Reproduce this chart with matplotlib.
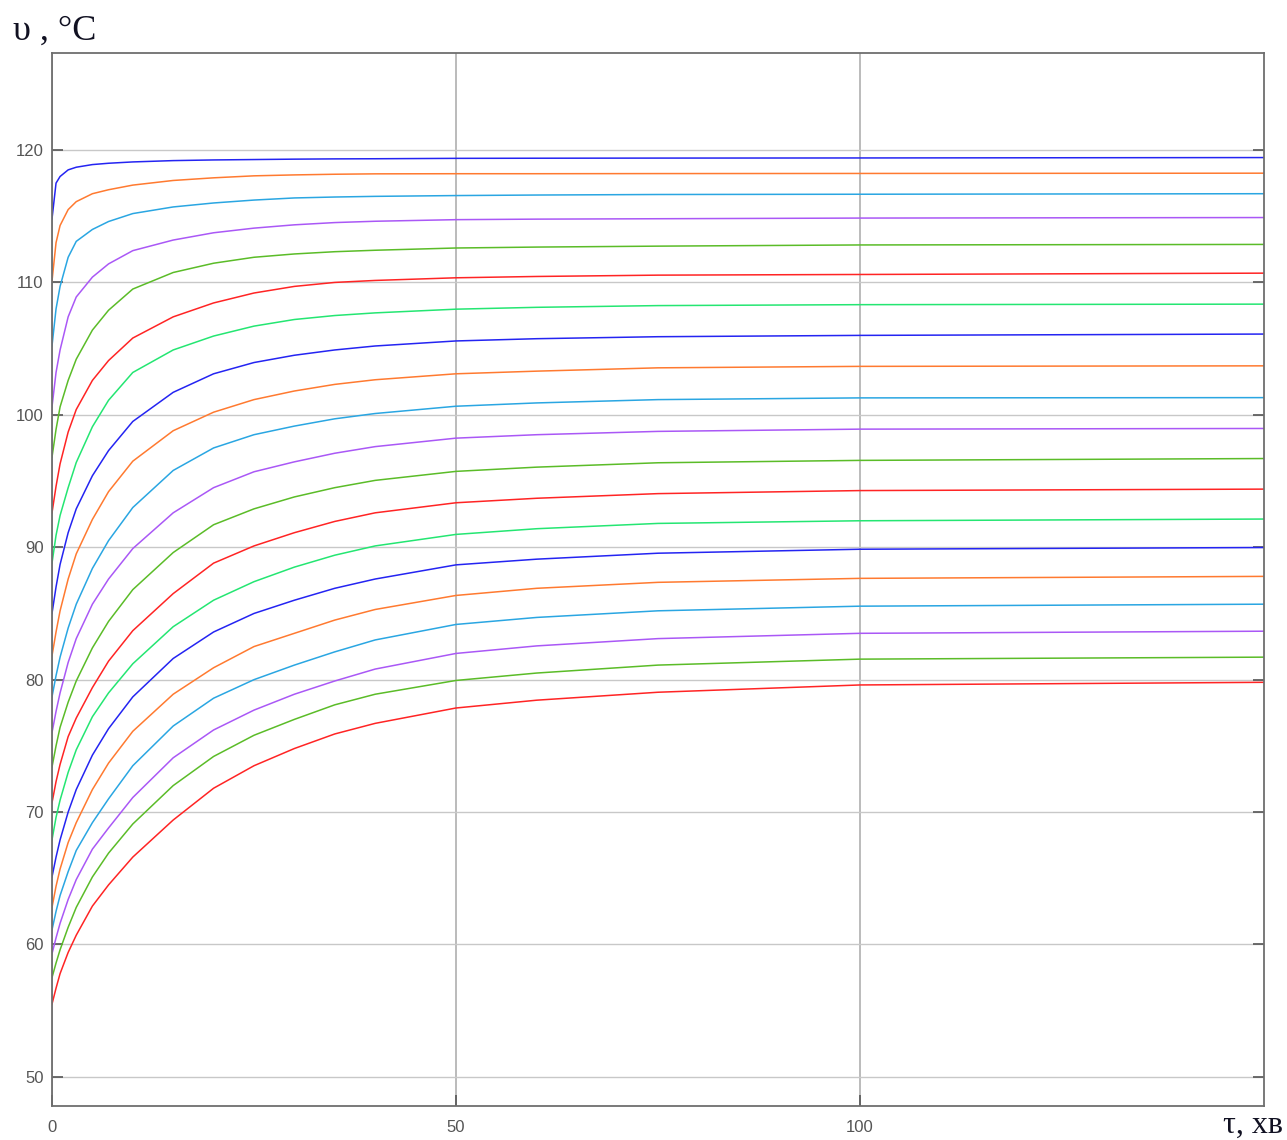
import matplotlib
matplotlib.use("Agg")
import matplotlib.pyplot as plt

# time, min
tau = [0, 0.5, 1, 2, 3, 5, 7, 10, 15, 20, 25, 30, 35, 40, 50, 60, 75, 100, 150]

# temperature curves, top to bottom
curve_01 = [114.8, 117.5, 118.0, 118.5, 118.7, 118.9, 119.0, 119.1, 119.2, 119.25, 119.28, 119.31, 119.33, 119.34, 119.37, 119.38, 119.39, 119.4, 119.43]
curve_02 = [110.1, 113.0, 114.3, 115.5, 116.1, 116.7, 117.0, 117.35, 117.7, 117.9, 118.05, 118.12, 118.17, 118.2, 118.21, 118.21, 118.22, 118.23, 118.25]
curve_03 = [105.2, 108.0, 109.7, 111.9, 113.1, 114.0, 114.6, 115.2, 115.7, 116.0, 116.22, 116.38, 116.45, 116.5, 116.56, 116.6, 116.64, 116.66, 116.7]
curve_04 = [100.6, 103.2, 104.9, 107.4, 108.9, 110.4, 111.4, 112.4, 113.2, 113.75, 114.1, 114.35, 114.52, 114.62, 114.74, 114.78, 114.81, 114.86, 114.9]
curve_05 = [96.8, 98.9, 100.6, 102.6, 104.2, 106.4, 107.9, 109.5, 110.75, 111.45, 111.9, 112.15, 112.32, 112.43, 112.6, 112.67, 112.74, 112.83, 112.87]
curve_06 = [92.6, 94.6, 96.3, 98.7, 100.4, 102.6, 104.1, 105.8, 107.4, 108.45, 109.2, 109.7, 110.0, 110.15, 110.35, 110.45, 110.55, 110.6, 110.7]
curve_07 = [88.8, 90.9, 92.4, 94.5, 96.4, 99.1, 101.1, 103.2, 104.9, 105.95, 106.7, 107.2, 107.5, 107.7, 107.98, 108.12, 108.25, 108.32, 108.36]
curve_08 = [85.0, 87.0, 88.7, 91.1, 92.9, 95.4, 97.3, 99.5, 101.7, 103.1, 103.95, 104.5, 104.9, 105.2, 105.58, 105.75, 105.9, 106.0, 106.1]
curve_09 = [81.8, 83.6, 85.2, 87.6, 89.5, 92.1, 94.2, 96.5, 98.8, 100.2, 101.15, 101.8, 102.3, 102.65, 103.1, 103.3, 103.55, 103.66, 103.7]
curve_10 = [78.7, 80.3, 81.7, 83.9, 85.7, 88.4, 90.5, 93.0, 95.8, 97.5, 98.5, 99.15, 99.7, 100.1, 100.65, 100.9, 101.15, 101.28, 101.3]
curve_11 = [76.0, 77.6, 79.0, 81.3, 83.1, 85.7, 87.6, 89.9, 92.6, 94.5, 95.7, 96.45, 97.1, 97.6, 98.24, 98.5, 98.75, 98.92, 98.97]
curve_12 = [73.4, 75.0, 76.4, 78.3, 79.9, 82.4, 84.4, 86.8, 89.6, 91.7, 92.9, 93.8, 94.5, 95.05, 95.73, 96.05, 96.38, 96.56, 96.7]
curve_13 = [70.7, 72.3, 73.6, 75.7, 77.1, 79.4, 81.4, 83.7, 86.5, 88.8, 90.1, 91.1, 91.95, 92.6, 93.36, 93.7, 94.05, 94.28, 94.39]
curve_14 = [67.9, 69.6, 70.9, 73.0, 74.7, 77.2, 79.0, 81.2, 84.0, 86.0, 87.4, 88.5, 89.4, 90.1, 90.97, 91.4, 91.8, 92.0, 92.13]
curve_15 = [65.1, 66.6, 67.9, 70.0, 71.7, 74.3, 76.3, 78.7, 81.6, 83.6, 85.0, 86.0, 86.9, 87.6, 88.67, 89.1, 89.55, 89.85, 89.98]
curve_16 = [62.8, 64.4, 65.7, 67.7, 69.2, 71.7, 73.7, 76.1, 78.9, 80.9, 82.5, 83.5, 84.5, 85.3, 86.36, 86.9, 87.35, 87.65, 87.8]
curve_17 = [61.1, 62.5, 63.7, 65.5, 67.1, 69.2, 71.0, 73.5, 76.5, 78.6, 80.0, 81.1, 82.1, 83.0, 84.17, 84.7, 85.2, 85.55, 85.7]
curve_18 = [59.3, 60.5, 61.6, 63.4, 64.9, 67.2, 68.8, 71.1, 74.1, 76.2, 77.7, 78.9, 79.9, 80.8, 81.98, 82.55, 83.1, 83.5, 83.66]
curve_19 = [57.5, 58.6, 59.6, 61.3, 62.8, 65.1, 66.9, 69.1, 72.0, 74.2, 75.8, 77.0, 78.1, 78.9, 79.94, 80.5, 81.1, 81.55, 81.7]
curve_20 = [55.5, 56.7, 57.8, 59.4, 60.7, 62.9, 64.5, 66.6, 69.4, 71.8, 73.5, 74.8, 75.9, 76.7, 77.86, 78.45, 79.05, 79.6, 79.8]

curves = [curve_01, curve_02, curve_03, curve_04, curve_05, curve_06, curve_07,
          curve_08, curve_09, curve_10, curve_11, curve_12, curve_13, curve_14,
          curve_15, curve_16, curve_17, curve_18, curve_19, curve_20]

colors = ["#2424F2", "#FF7A30", "#2AA6E2", "#AA58F6", "#5BBC28", "#FF2424", "#24E672"]

x_ticks = [0, 50, 100]
y_ticks = [50, 60, 70, 80, 90, 100, 110, 120]

fig = plt.figure(figsize=(12.87, 11.40), dpi=100)
ax = fig.add_axes([0.0404, 0.0298, 0.9417, 0.9234])

for i, v in enumerate(curves):
    ax.plot(tau, v, color=colors[i % len(colors)], lw=1.1)

ax.set_xlim(0, 150)
ax.set_ylim(47.8, 127.3)
ax.set_xticks(x_ticks)
ax.set_yticks(y_ticks)
ax.grid(True, axis="y", color="#c8c8c8", lw=1.0)
ax.grid(True, axis="x", color="#a8a8a8", lw=1.1)
ax.set_axisbelow(True)

for s in ax.spines.values():
    s.set_color("#6e6e6e")
    s.set_linewidth(1.3)

ax.tick_params(direction="in", length=8, width=1.2, color="#555555",
               right=True, labelsize=12, labelcolor="#555555")
ax.tick_params(axis="x", pad=10)
ax.tick_params(axis="y", pad=6)
for lab in ax.get_xticklabels() + ax.get_yticklabels():
    lab.set_family("Liberation Sans")

fig.text(0.010, 0.965, "υ , °C", family="Liberation Serif", fontsize=26,
         color="#111122", ha="left", va="baseline")
fig.text(0.997, 0.006, "τ, хв", family="Liberation Serif", fontsize=23,
         color="#111122", ha="right", va="baseline")

fig.savefig("out.png", dpi=100)
